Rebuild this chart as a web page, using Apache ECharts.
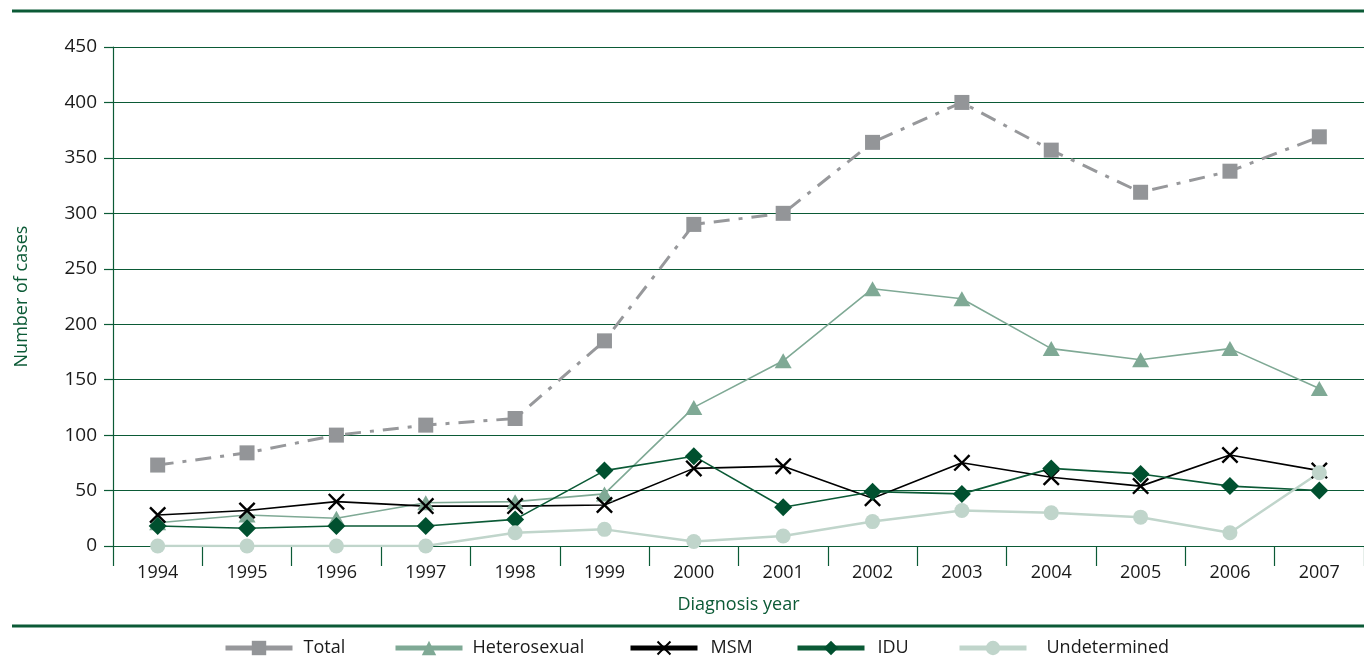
<!DOCTYPE html>
<html><head><meta charset="utf-8">
<script src="https://cdn.jsdelivr.net/npm/echarts@6/dist/echarts.min.js"></script>
<style>html,body{margin:0;padding:0;background:#fff}#c{width:1364px;height:662px}</style>
</head><body><div id="c"></div>
<script>
const years = ['1994','1995','1996','1997','1998','1999','2000','2001','2002','2003','2004','2005','2006','2007'];
const total = [73, 84, 100, 109, 115, 185, 290, 300, 364, 400, 357, 319, 338, 369];
const heterosexual = [21, 28, 25, 39, 40, 47, 125, 167, 232, 223, 178, 168, 178, 142];
const msm = [28, 32, 40, 36, 36, 37, 70, 72, 43, 75, 62, 54, 82, 68];
const idu = [18, 16, 18, 18, 24, 68, 81, 35, 49, 47, 70, 65, 54, 50];
const undetermined = [0, 0, 0, 0, 12, 15, 4, 9, 22, 32, 30, 26, 12, 66];
const seriesNames = ['Total','Heterosexual','MSM','IDU','Undetermined'];

const green = '#0b5a36';
const font = '"Open Sans", "Noto Sans", sans-serif';
const xPath = 'path://M0,1 L1,0 L5,4 L9,0 L10,1 L6,5 L10,9 L9,10 L5,6 L1,10 L0,9 L4,5 Z';

const legendLeft = [223, 393, 628, 795, 957];
const legendPad = [6, 5, 8, 8, 15];

const chart = echarts.init(document.getElementById('c'));
chart.setOption({
  animation: false,
  textStyle: {fontFamily: font},
  grid: {left: 113, right: -6, top: 47, bottom: 116, containLabel: false},
  graphic: [
    {type: 'line', shape: {x1: 12, y1: 11, x2: 1364, y2: 11}, style: {stroke: green, lineWidth: 3}},
    {type: 'line', shape: {x1: 12, y1: 626, x2: 1364, y2: 626}, style: {stroke: green, lineWidth: 3}}
  ],
  legend: seriesNames.map((n, i) => ({
    left: legendLeft[i], top: 639, padding: 0, itemWidth: 67, itemHeight: 18,
    data: [n],
    lineStyle: {width: 5, type: 'solid'},
    textStyle: {fontFamily: font, fontSize: 18, color: '#1a1a1a', padding: [0, 0, 0, legendPad[i]]}
  })),
  xAxis: {
    type: 'category', data: years, boundaryGap: true,
    name: 'Diagnosis year', nameLocation: 'middle', nameGap: 50,
    nameTextStyle: {color: green, fontSize: 18, fontFamily: font},
    axisLine: {lineStyle: {color: green, width: 1.2}},
    axisTick: {show: true, interval: 0, length: 20, inside: false, lineStyle: {color: green, width: 1.2}},
    axisLabel: {interval: 0, margin: 18, fontSize: 18, color: '#1a1a1a', fontFamily: font}
  },
  yAxis: {
    type: 'value', min: 0, max: 450, interval: 50,
    name: 'Number of cases', nameLocation: 'middle', nameRotate: 90, nameGap: 82,
    nameTextStyle: {color: green, fontSize: 18, fontFamily: font},
    axisLine: {show: true, lineStyle: {color: green, width: 1.2}},
    axisTick: {show: true, length: 9, lineStyle: {color: green, width: 1.2}},
    axisLabel: {margin: 16, fontSize: 19, color: '#1a1a1a', fontFamily: font},
    splitLine: {show: true, lineStyle: {color: green, width: 1.2}}
  },
  series: [
    {name: 'Total', type: 'line', data: total, symbol: 'rect', symbolSize: 15,
      lineStyle: {color: '#97989b', width: 3, type: [16, 9, 4, 9]}, itemStyle: {color: '#939598'}},
    {name: 'Heterosexual', type: 'line', data: heterosexual, symbol: 'triangle', symbolSize: [17, 15],
      lineStyle: {color: '#7fa995', width: 1.6}, itemStyle: {color: '#7fa995'}},
    {name: 'MSM', type: 'line', data: msm, symbol: xPath, symbolSize: 17,
      lineStyle: {color: '#000', width: 1.6}, itemStyle: {color: '#000'}},
    {name: 'IDU', type: 'line', data: idu, symbol: 'diamond', symbolSize: [18, 18],
      lineStyle: {color: '#0b5a36', width: 1.6}, itemStyle: {color: '#00502f'}},
    {name: 'Undetermined', type: 'line', data: undetermined, symbol: 'circle', symbolSize: 15,
      lineStyle: {color: '#c0d5cb', width: 2.5}, itemStyle: {color: '#c0d5cb'}}
  ]
});
</script></body></html>
